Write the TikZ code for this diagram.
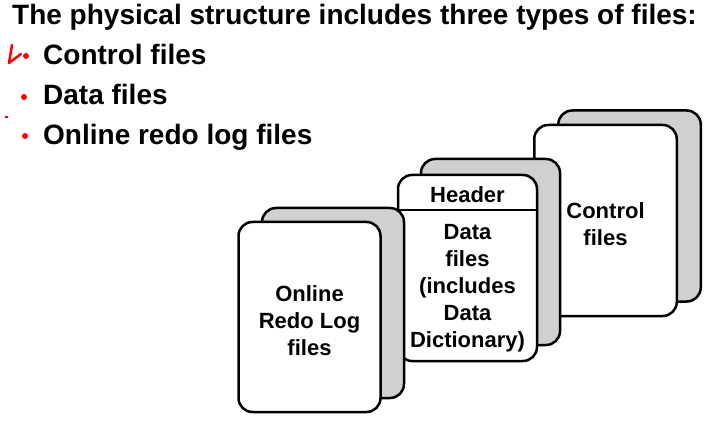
\documentclass[tikz,border=0pt]{standalone}
\usepackage{fontspec}
\setmainfont{Liberation Sans}
\definecolor{cardgray}{RGB}{208,208,208}
\begin{document}
\begin{tikzpicture}[x=1pt,y=-1pt,
    card/.style={draw, line width=2.5pt, rounded corners=14pt, inner sep=0},
    backcard/.style={card, fill=cardgray},
    frontcard/.style={card, fill=white},
    cardtext/.style={font=\bfseries\fontsize{22}{27}\selectfont, align=center, inner sep=0},
    itemtext/.style={font=\bfseries\fontsize{28}{32}\selectfont, anchor=base west, inner sep=0},
    dot/.style={circle, fill=red, inner sep=0, minimum size=6pt}]
  \useasboundingbox (0,0) rectangle (720,422);
  \node[anchor=base west, inner sep=0, font=\bfseries\fontsize{28}{34}\selectfont] (title)
    at (12,25) {The physical structure includes three types of files:};
  \node[dot] (dot1) at (26,56) {};
  \node[dot] (dot2) at (24,97) {};
  \node[dot] (dot3) at (25,136) {};
  \node[itemtext] (item1) at (43,65) {Control files};
  \node[itemtext] (item2) at (43,105) {Data files};
  \node[itemtext] (item3) at (43,145) {Online redo log files};
  \draw[red, line width=2.5pt, line cap=round, line join=round] (12,45) -- (9,63) -- (21,54);
  \fill[red] (5,116) rectangle (7.5,118.5);
  \begin{scope}[minimum width=142.5pt, minimum height=191pt]
    \node[backcard] (ctlback) at (629.5,206) {};
    \node[frontcard] (ctl) at (605.5,220.5) {};
  \end{scope}
  \node[cardtext] (ctltext) at (605.5,224) {Control\\files};
  \begin{scope}[minimum width=139pt, minimum height=186pt]
    \node[backcard] (databack) at (490.5,252) {};
    \node[frontcard] (data) at (467.5,268) {};
  \end{scope}
  \draw[line width=2.5pt] (data.west |- 0,210) -- (data.east |- 0,210);
  \node[cardtext, anchor=base] (header) at (467.5,203) {Header};
  \node[cardtext] (datatext) at (467.5,288) {Data\\files\\(includes\\Data\\Dictionary)};
  \begin{scope}[minimum width=142pt, minimum height=190pt]
    \node[backcard] (redoback) at (333,303) {};
    \node[frontcard] (redo) at (309.5,317) {};
  \end{scope}
  \node[cardtext] (redotext) at (309.5,321) {Online\\Redo Log\\files};
\end{tikzpicture}
\end{document}
